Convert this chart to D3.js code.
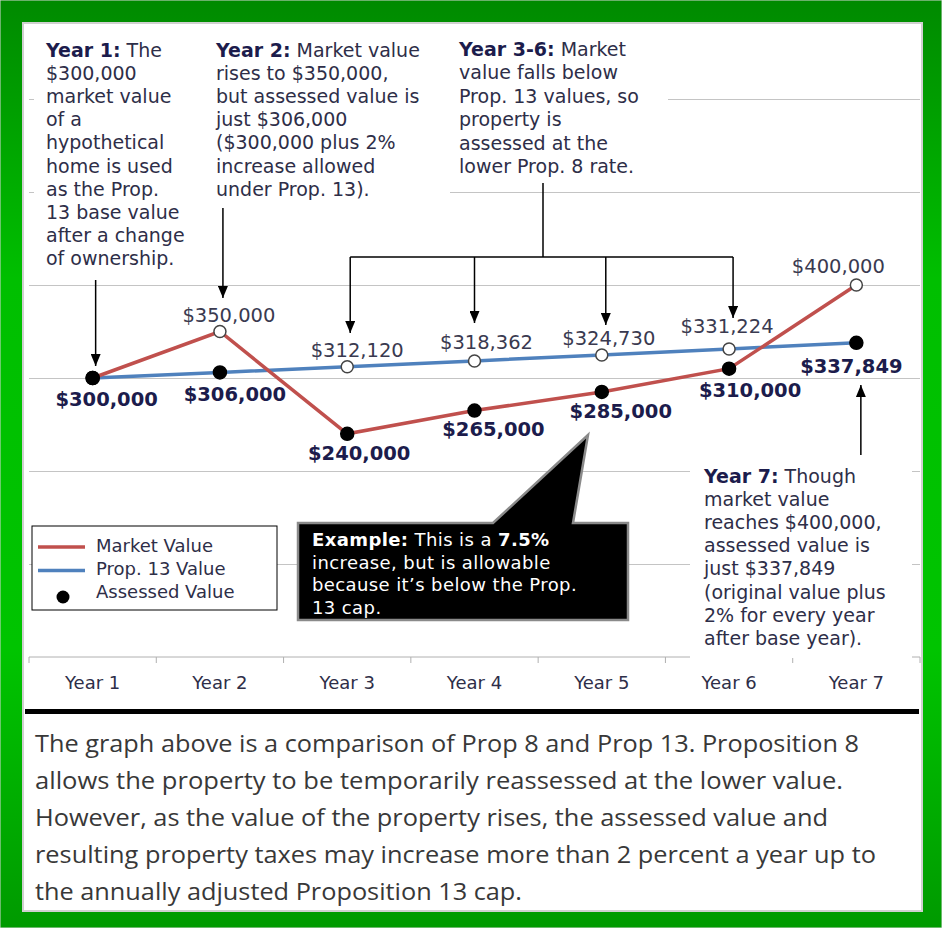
<!DOCTYPE html>
<html>
<head>
<meta charset="utf-8">
<script src="https://cdn.jsdelivr.net/npm/d3@7"></script>
<style>
  body { margin: 0; background: #fff; }
  svg { display: block; }
</style>
</head>
<body>
<svg id="chart"></svg>
<script>
// ---- data ----
const years = ["Year 1", "Year 2", "Year 3", "Year 4", "Year 5", "Year 6", "Year 7"];
const marketValue = [300000, 350000, 240000, 265000, 285000, 310000, 400000];
const prop13Value = [300000, 306000, 312120, 318362, 324730, 331224, 337849];
const assessedValue = [300000, 306000, 240000, 265000, 285000, 310000, 337849];
const gridValues = [100000, 200000, 300000, 400000, 500000, 600000];
const legendLabels = ["Market Value", "Prop. 13 Value", "Assessed Value"];

const noteYear1 = [["Year 1:", " The"], "$300,000", "market value", "of a", "hypothetical",
  "home is used", "as the Prop.", "13 base value", "after a change", "of ownership."];
const noteYear2 = [["Year 2:", " Market value"], "rises to $350,000,", "but assessed value is",
  "just $306,000", "($300,000  plus 2%", "increase allowed", "under Prop. 13)."];
const noteYear36 = [["Year 3-6:", " Market"], "value falls below", "Prop. 13 values, so",
  "property is", "assessed at the", "lower Prop. 8 rate."];
const noteYear7 = [["Year 7:", " Though"], "market value", "reaches $400,000,", "assessed value is",
  "just $337,849", "(original value plus", "2% for every year", "after base year)."];
const calloutLines = [["Example:", " This is a ", "7.5%"], "increase, but is allowable",
  "because it\u2019s below the Prop.", "13 cap."];
const footnoteLines = [
  "The graph above is a comparison of Prop 8 and Prop 13. Proposition 8",
  "allows the property to be temporarily reassessed at the lower value.",
  "However, as the value of the property rises, the assessed value and",
  "resulting property taxes may increase more than 2 percent a year up to",
  "the annually adjusted Proposition 13 cap."
];

// ---- layout ----
const W = 942, H = 928;
const font = "'DejaVu Sans', Verdana, sans-serif";
const navy = "#1c1c4c";
const textCol = "#2e2e48";
const red = "#c0504d", blue = "#4f81bd";
// label offsets from their point: [dx, dy]
const assessedLabelOffset = [[14, 28], [15, 29], [12, 26], [19, 25], [19, 26], [21, 28], [-5, 30]];
const otherLabelOffset = [null, [9, -10], [10, -10], [12, -12], [7, -10], [-2, -16], [-18, -12]];
const footnoteWidths = [824, 808, 793, 841, 487];

const svg = d3.select("#chart").attr("width", W).attr("height", H);
const defs = svg.append("defs");

const grad = defs.append("linearGradient").attr("id", "frame")
  .attr("x1", 0).attr("y1", 0).attr("x2", 0).attr("y2", 1);
[[0, "#008a00"], [0.3, "#00bf00"], [0.7, "#00c400"], [1, "#009a00"]].forEach(([o, c]) =>
  grad.append("stop").attr("offset", o).attr("stop-color", c));

defs.append("marker").attr("id", "arrow")
  .attr("viewBox", "0 0 12 10").attr("refX", 12).attr("refY", 5)
  .attr("markerWidth", 12).attr("markerHeight", 10)
  .attr("markerUnits", "userSpaceOnUse").attr("orient", "auto")
  .append("path").attr("d", "M0,0 L12,5 L0,10 Z").attr("fill", "#000");

// frame
svg.append("rect").attr("width", W).attr("height", H).attr("fill", "url(#frame)")
  .attr("stroke", "#d8d8d8").attr("stroke-width", 1);
svg.append("rect").attr("x", 23).attr("y", 23).attr("width", 899).attr("height", 888)
  .attr("fill", "#fff").attr("stroke", "#d0d0d0").attr("stroke-width", 2);

// scales
const x = d3.scaleBand().domain(years).range([29, 920]);
const cx = d => x(d) + x.bandwidth() / 2;
const y = d3.scaleLinear().domain([0, 600000]).range([657, 99]);

// gridlines
svg.append("g")
  .attr("transform", "translate(29,0)")
  .call(d3.axisRight(y).tickValues(gridValues).tickSize(891).tickFormat(""))
  .call(g => g.select(".domain").remove())
  .call(g => g.selectAll("line").attr("stroke", "#c4c4c4"));

// x axis: baseline, boundary ticks, labels
const axis = svg.append("g");
axis.append("line").attr("x1", 29).attr("x2", 920).attr("y1", y(0)).attr("y2", y(0))
  .attr("stroke", "#b0b0b0");
axis.selectAll("line.tick").data(years.map(x).concat([x.range()[1]])).join("line")
  .attr("class", "tick")
  .attr("x1", d => d).attr("x2", d => d).attr("y1", y(0)).attr("y2", y(0) + 6)
  .attr("stroke", "#b0b0b0");

// note boxes (white, hide gridlines behind text)
const boxes = [[34, 30, 164, 245], [198, 30, 252, 172], [450, 30, 218, 152], [690, 456, 222, 202]];
svg.append("g").selectAll("rect").data(boxes).join("rect")
  .attr("x", d => d[0]).attr("y", d => d[1]).attr("width", d => d[2]).attr("height", d => d[3])
  .attr("fill", "#fff");

axis.selectAll("text").data(years).join("text")
  .attr("x", cx).attr("y", 689)
  .attr("text-anchor", "middle")
  .attr("font-family", font).attr("font-size", 18).attr("fill", textCol)
  .text(d => d);

// multi-line note helper
function note(lines, x0, y0, lh, opts = {}) {
  const t = svg.append("text")
    .attr("font-family", opts.family || font)
    .attr("font-size", opts.size || 19)
    .attr("letter-spacing", opts.spacing || 0)
    .attr("fill", opts.fill || textCol);
  lines.forEach((ln, i) => {
    const parts = Array.isArray(ln) ? ln : [ln];
    const first = t.append("tspan").attr("x", x0).attr("y", y0 + i * lh);
    parts.forEach((p, j) => {
      const sp = j === 0 ? first : t.append("tspan");
      sp.text(p);
      if (Array.isArray(ln) && j % 2 === 0) {
        sp.attr("font-weight", "bold").attr("fill", opts.boldFill || navy);
      }
    });
  });
  return t;
}

note(noteYear1, 46, 57, 23.1);
note(noteYear2, 216, 57, 23.1);
note(noteYear36, 459, 56, 23.4);
note(noteYear7, 704, 483, 23.1);

// annotation arrows
const arrows = svg.append("g").attr("stroke", "#000").attr("stroke-width", 1.5).attr("fill", "none");
const arrowLines = [
  [cx("Year 1") + 3, 280, 366],
  [cx("Year 2") + 3, 208, 298],
  [cx("Year 3") + 3, 257, 333],
  [cx("Year 4") + 0, 257, 323],
  [cx("Year 5") + 4, 257, 325],
  [cx("Year 6") + 4, 257, 318],
  [cx("Year 7") + 4.5, 455, 385]
];
arrows.selectAll("line.arr").data(arrowLines).join("line")
  .attr("class", "arr")
  .attr("x1", d => d[0]).attr("x2", d => d[0]).attr("y1", d => d[1]).attr("y2", d => d[2])
  .attr("marker-end", "url(#arrow)");
arrows.append("line").attr("x1", 543).attr("x2", 543).attr("y1", 183).attr("y2", 257);
arrows.append("line").attr("x1", cx("Year 3") + 3).attr("x2", cx("Year 6") + 4)
  .attr("y1", 257).attr("y2", 257);

// series lines
const line = d3.line().x((d, i) => cx(years[i])).y(d => y(d));
svg.append("path").datum(prop13Value).attr("d", line)
  .attr("fill", "none").attr("stroke", blue).attr("stroke-width", 3.5);
svg.append("path").datum(marketValue).attr("d", line)
  .attr("fill", "none").attr("stroke", red).attr("stroke-width", 3.5);

// markers: filled when the value is the assessed one
const pts = [];
years.forEach((yr, i) => {
  [prop13Value[i], marketValue[i]].forEach(v => {
    pts.push({ yr, v, assessed: v === assessedValue[i] });
  });
});
svg.append("g").selectAll("circle").data(pts).join("circle")
  .attr("cx", d => cx(d.yr)).attr("cy", d => y(d.v))
  .attr("r", d => d.assessed ? 6.5 : 6)
  .attr("fill", d => d.assessed ? "#000" : "#fff")
  .attr("stroke", d => d.assessed ? "#000" : "#444")
  .attr("stroke-width", 1.5);

// value labels
const fmt = v => "$" + d3.format(",")(v);
const labels = [];
years.forEach((yr, i) => {
  const a = assessedLabelOffset[i];
  labels.push({ x: cx(yr) + a[0], y: y(assessedValue[i]) + a[1], t: fmt(assessedValue[i]), bold: true });
  const other = [marketValue[i], prop13Value[i]].find(v => v !== assessedValue[i]);
  if (other !== undefined) {
    const o = otherLabelOffset[i];
    labels.push({ x: cx(yr) + o[0], y: y(other) + o[1], t: fmt(other), bold: false });
  }
});
svg.append("g").selectAll("text").data(labels).join("text")
  .attr("x", d => d.x).attr("y", d => d.y)
  .attr("text-anchor", "middle")
  .attr("font-family", font).attr("font-size", 19.5)
  .attr("font-weight", d => d.bold ? "bold" : "normal")
  .attr("fill", d => d.bold ? navy : "#3a3a50")
  .text(d => d.t);

// legend
const lg = svg.append("g");
lg.append("rect").attr("x", 32).attr("y", 526).attr("width", 245).attr("height", 84)
  .attr("fill", "#fff").attr("stroke", "#000").attr("stroke-width", 1);
[red, blue].forEach((c, i) => {
  lg.append("line").attr("x1", 38).attr("x2", 85).attr("y1", 547 + i * 23.5).attr("y2", 547 + i * 23.5)
    .attr("stroke", c).attr("stroke-width", 3.5);
});
lg.append("circle").attr("cx", 63).attr("cy", 597).attr("r", 6.5).attr("fill", "#000");
lg.selectAll("text").data(legendLabels).join("text")
  .attr("x", 96).attr("y", (d, i) => 552 + i * 23)
  .attr("font-family", font).attr("font-size", 18).attr("fill", textCol)
  .text(d => d);

// callout
svg.append("path")
  .attr("d", "M298,523 L493,523 L588,435 L573,523 L628,523 L628,620 L298,620 Z")
  .attr("fill", "#000").attr("stroke", "#8a8a8a").attr("stroke-width", 2.5)
  .attr("stroke-linejoin", "miter");
note(calloutLines, 312, 546, 22.5, { size: 18, spacing: 0.4, fill: "#fff", boldFill: "#fff" });

// separator + footnote
svg.append("rect").attr("x", 25).attr("y", 709).attr("width", 894).attr("height", 5).attr("fill", "#000");
svg.append("g").selectAll("text").data(footnoteLines).join("text")
  .attr("x", 35).attr("y", (d, i) => 752 + i * 37)
  .attr("font-family", "'Liberation Sans Narrow', 'Open Sans', sans-serif")
  .attr("font-size", 23.5).attr("fill", "#383838")
  .attr("textLength", (d, i) => footnoteWidths[i]).attr("lengthAdjust", "spacingAndGlyphs")
  .text(d => d);
</script>
</body>
</html>
